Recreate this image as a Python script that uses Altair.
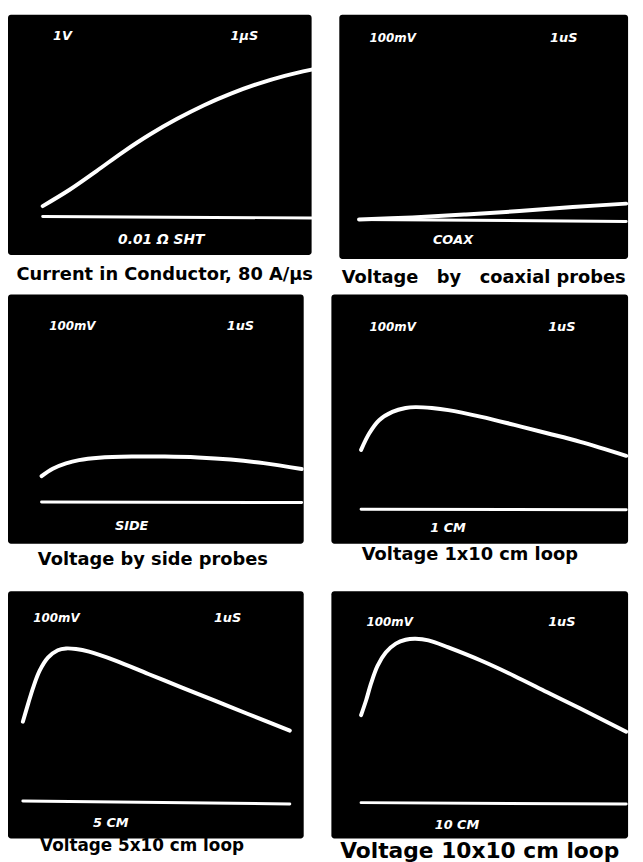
import altair as alt
import pandas as pd

# ---------------- data (time in microseconds, 1 us/div) ----------------
# Panel 1: current via 0.01 ohm shunt, volts (1 V/div)
P1_T = [0, 1, 2, 3, 4, 5, 6, 7, 8, 9, 10]
P1_V = [0.35, 0.9, 1.53, 2.18, 2.77, 3.29, 3.75, 4.14, 4.47, 4.74, 4.95]
P1_BASE_T = [0, 10]
P1_BASE_V = [0, -0.05]

# Panel 2: coaxial probes, mV (100 mV/div)
P2_T = [0, 2, 4, 6, 8, 10]
P2_V = [0, 6.7, 16.7, 28.3, 41.7, 53.3]
P2_BASE_T = [0, 10]
P2_BASE_V = [0, -6.7]

# Panel 3: side probes, mV
P3_T = [0, 0.43, 0.94, 1.44, 2.21, 3.47, 4.74, 6.01, 7.27, 8.54, 10]
P3_V = [87, 112, 130, 141, 149, 153, 153, 150, 143, 131, 111]
P3_BASE_T = [0, 10]
P3_BASE_V = [0, -2]

# Panel 4: 1x10 cm loop, mV
P4_T = [0, 0.31, 0.68, 1.18, 1.68, 2.05, 2.67, 3.29, 4.54, 5.78, 7.02, 8.27, 10]
P4_V = [200, 256, 300, 328, 341, 344, 341, 334, 311, 284, 256, 227, 180]
P4_BASE_T = [0, 10]
P4_BASE_V = [0, -2]

# Panel 5: 5x10 cm loop, mV
P5_T = [0, 0.2, 0.39, 0.63, 0.94, 1.31, 1.62, 1.99, 2.48, 3.47, 4.7, 5.94, 7.17, 8.41, 10]
P5_V = [267, 328, 383, 439, 483, 508, 514, 512, 503, 473, 428, 383, 339, 294, 237]
P5_BASE_T = [0, 10]
P5_BASE_V = [0, -10]

# Panel 6: 10x10 cm loop, mV
P6_T = [0, 0.19, 0.37, 0.62, 0.93, 1.31, 1.68, 2.05, 2.54, 3.29, 4.54, 5.78, 7.02, 8.27, 10]
P6_V = [295, 345, 400, 461, 506, 536, 549, 552, 547, 523, 478, 427, 372, 317, 239]
P6_BASE_T = [0, 10]
P6_BASE_V = [0, -5]

CAPTIONS = [
    "Current in Conductor, 80 A/\u03bcs",
    "Voltage\u00a0\u00a0 by\u00a0\u00a0 coaxial probes",
    "Voltage by side probes",
    "Voltage 1x10 cm loop",
    "Voltage 5x10 cm loop",
    "Voltage 10x10 cm loop",
]
SCOPE_LABELS = [
    ["1V", "1\u03bcS", "0.01 \u03a9 SHT"],
    ["100mV", "1uS", "COAX"],
    ["100mV", "1uS", "SIDE"],
    ["100mV", "1uS", "1 CM"],
    ["100mV", "1uS", "5 CM"],
    ["100mV", "1uS", "10 CM"],
]

# ---------------- layout / style ----------------
FONT = "DejaVu Sans"


def panel(t, v, bt, bv, xdom, ydom, w, h, labels, label_pos, caption, cap_size, cap_offset, cap_dx):
    df = pd.DataFrame({"t": t, "v": v})
    base = pd.DataFrame({"t": bt, "v": bv})
    x = alt.X("t:Q", scale=alt.Scale(domain=xdom, nice=False, zero=False), axis=None)
    y = alt.Y("v:Q", scale=alt.Scale(domain=ydom, nice=False, zero=False), axis=None)
    trace = alt.Chart(df).mark_line(
        color="white", strokeWidth=4, interpolate="catmull-rom", strokeCap="round"
    ).encode(x=x, y=y)
    bline = alt.Chart(base).mark_line(
        color="white", strokeWidth=3, strokeCap="round"
    ).encode(x=x, y=y)
    layers = [trace, bline]
    for lab, (px, py, fs) in zip(labels, label_pos):
        layers.append(
            alt.Chart(pd.DataFrame({"s": [lab]})).mark_text(
                color="white", font=FONT, fontStyle="italic", fontWeight="bold",
                fontSize=fs, align="center", baseline="middle"
            ).encode(x=alt.value(px), y=alt.value(py), text="s:N")
        )
    return alt.layer(*layers).properties(
        width=w, height=h,
        title=alt.TitleParams(
            caption, orient="bottom", anchor="middle", offset=cap_offset, dx=cap_dx,
            font=FONT, fontSize=cap_size, fontWeight="bold", color="black"
        ),
    )


p1 = panel(P1_T, P1_V, P1_BASE_T, P1_BASE_V, [-1.29, 10.0], [-1.3, 6.8], 307, 243,
           SCOPE_LABELS[0], [(55, 22, 13), (239, 22, 13), (155, 228, 14)],
           CAPTIONS[0], 18, 11, 5)
p2 = panel(P2_T, P2_V, P2_BASE_T, P2_BASE_V, [-0.74, 10.07], [-133.3, 690], 292, 247,
           SCOPE_LABELS[1], [(54, 24, 12), (227, 24, 13), (115, 228, 13)],
           CAPTIONS[1], 18, 10, 0)
p3 = panel(P3_T, P3_V, P3_BASE_T, P3_BASE_V, [-1.29, 10.08], [-141, 699], 299, 252,
           SCOPE_LABELS[2], [(65, 32, 12), (235, 32, 13), (125, 234, 13)],
           CAPTIONS[2], 18, 7, -3)
p4 = panel(P4_T, P4_V, P4_BASE_T, P4_BASE_V, [-1.12, 10.07], [-116.7, 723.3], 300, 252,
           SCOPE_LABELS[3], [(62, 33, 12), (233, 33, 13), (118, 236, 13)],
           CAPTIONS[3], 18, 2, -10)
p5 = panel(P5_T, P5_V, P5_BASE_T, P5_BASE_V, [-0.556, 10.52], [-126.7, 706.7], 299, 250,
           SCOPE_LABELS[4], [(49, 27, 12), (222, 27, 13), (104, 234, 13)],
           CAPTIONS[4], 17, 0, -14)
p6 = panel(P6_T, P6_V, P6_BASE_T, P6_BASE_V, [-1.12, 10.07], [-121, 712.3], 300, 250,
           SCOPE_LABELS[5], [(59, 31, 12), (233, 31, 13), (127, 236, 13)],
           CAPTIONS[5], 22, 3, 0)

row1 = alt.hconcat(p1, p2, spacing=28, bounds="flush")
row2 = alt.hconcat(p3, p4, spacing=28, bounds="flush")
row3 = alt.hconcat(p5, p6, spacing=28, bounds="flush")

top = alt.vconcat(row1, row2, spacing=8)
chart = alt.vconcat(top, row3, spacing=23).properties(
    padding={"left": 0, "top": 2, "right": 0, "bottom": 0},
    background="white",
).configure_view(fill="black", stroke="black", strokeWidth=0, cornerRadius=3)

chart.save("out.html", embed_options={"renderer": "svg", "actions": False})
